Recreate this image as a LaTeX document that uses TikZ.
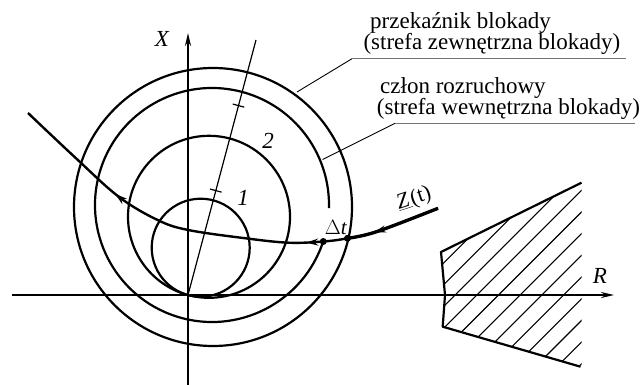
\documentclass[tikz,border=0pt]{standalone}
\usepackage{fontspec}
\setmainfont{Liberation Serif}
\usetikzlibrary{arrows.meta,decorations.markings}
\begin{document}
\begin{tikzpicture}[x=1pt,y=-1pt,
  circ/.style={line width=2.2pt},
  axisline/.style={line width=2pt,-{Stealth[length=13pt,width=6pt]}},
  thinline/.style={line width=1.2pt},
  leader/.style={line width=0.9pt},
  shelf/.style={line width=1.4pt,draw=black!55},
  traj/.style={line width=2.4pt},
  hatchline/.style={line width=1.1pt},
  edge/.style={line width=2.2pt,line join=round},
  lbl/.style={font=\fontsize{23}{22}\selectfont,inner sep=0pt},
  dot/.style={circle,fill=black,inner sep=0pt,minimum size=7pt}
]
\useasboundingbox (0,0) rectangle (642,385);

% key points
\coordinate (O) at (188,295);
\coordinate (Xbot) at (188,385);
\coordinate (Xtop) at (188,33);
\coordinate (Rl) at (12,295);
\coordinate (Rr) at (614,295);
\coordinate (Ltop) at (256,40);
\coordinate (c1) at (200.7,247.7);
\coordinate (c2) at (209,216.8);
\coordinate (c3) at (212,205);
\coordinate (c4) at (213,207);

% axes
\draw[axisline] (Rl) -- (Rr);
\draw[axisline] (Xbot) -- (Xtop);
\node[lbl,font=\fontsize{23}{22}\itshape] (Xl) at (162,39) {X};
\node[lbl,font=\fontsize{23}{22}\itshape] (Rlab) at (600,276) {R};

% inclined line with ticks
\draw[thinline] (O) -- (Ltop);
\coordinate (tk1) at (215.8,190.6);
\coordinate (tk2) at (238.5,105.6);
\draw[thinline] (tk1) ++(-5.8,-1.55) -- ++(11.6,3.1);
\draw[thinline] (tk2) ++(-5.8,-1.55) -- ++(11.6,3.1);

% circles
\draw[circ] (c1) circle[radius=49];
\draw[circ] (c2) circle[radius=81];
\draw[circ] (c3) ++(18:117) arc[start angle=18,end angle=361.5,radius=117];
\draw[circ] (c4) circle[radius=139];

\node[lbl,font=\fontsize{23}{22}\itshape] (n1) at (243,198) {1};
\node[lbl,font=\fontsize{23}{22}\itshape] (n2) at (268,141) {2};

% trajectory
\draw[traj,postaction={decorate},decoration={markings,
   mark=at position 0.15 with {\arrow{Stealth[length=12pt,width=7pt]}},
   mark=at position 0.30 with {\arrow{Stealth[length=12pt,width=7pt]}},
   mark=at position 0.74 with {\arrow{Stealth[length=12pt,width=7pt]}}}]
  plot[smooth,tension=0.6] coordinates {(438,208.3) (376.6,231.7) (347.5,238.3) (323.3,241.5) (288.6,242.7) (245.6,238.3) (188.3,230) (157.6,220) (118.7,196.7) (75.7,158) (28,113)};
\draw[line width=3.3pt] plot[smooth,tension=0.6] coordinates {(438,208.3) (376.6,231.7) (347.5,238.3)};
\node[dot] (d1) at (323.3,241.5) {};
\node[dot] (d2) at (347.5,238.3) {};
\node[lbl,font=\fontsize{21}{21}\selectfont] (dt) at (336,228) {$\Delta$\textit{t}};
\node[lbl,font=\fontsize{22}{22}\selectfont,rotate=18] (zt) at (414,199) {\underline{\textit{Z}\kern2pt}(t)};

% hatched region
\coordinate (hA) at (441,252);
\coordinate (hB) at (581.5,182.7);
\coordinate (hM) at (445,295);
\coordinate (hC) at (442.7,326.7);
\coordinate (hD) at (580.5,366.7);
\begin{scope}
  \clip (hA) -- (hB) -- (581.7,182.7) -- (581.7,366.7) -- (hD) -- (hC) -- (hM) -- cycle;
  \foreach \c in {685,706.7,...,970} {
    \draw[hatchline] (\c-170,170) -- (\c-380,380);
  }
\end{scope}
\draw[edge] (hB) -- (hA) -- (hM) -- (hC) -- (hD);

% labels and leaders
\node[lbl,anchor=base west] (t1a) at (370,28.3) {przekaźnik blokady};
\node[lbl,anchor=base west] (t1b) at (363.3,49.5) {(strefa zewnętrzna blokady)};
\node[lbl,anchor=base west] (t2a) at (380,93.5) {człon rozruchowy};
\node[lbl,anchor=base west] (t2b) at (376.7,114.5) {(strefa wewnętrzna blokady)};

\coordinate (l1s) at (297,92);
\coordinate (l1k) at (352,58.7);
\coordinate (l1e) at (626,58.7);
\coordinate (l2s) at (322.5,159.5);
\coordinate (l2k) at (395,123.3);
\coordinate (l2e) at (634.5,123.3);
\draw[leader] (l1s) -- (l1k);
\draw[shelf] (l1k) -- (l1e);
\draw[leader] (l2s) -- (l2k);
\draw[shelf] (l2k) -- (l2e);
\end{tikzpicture}
\end{document}
